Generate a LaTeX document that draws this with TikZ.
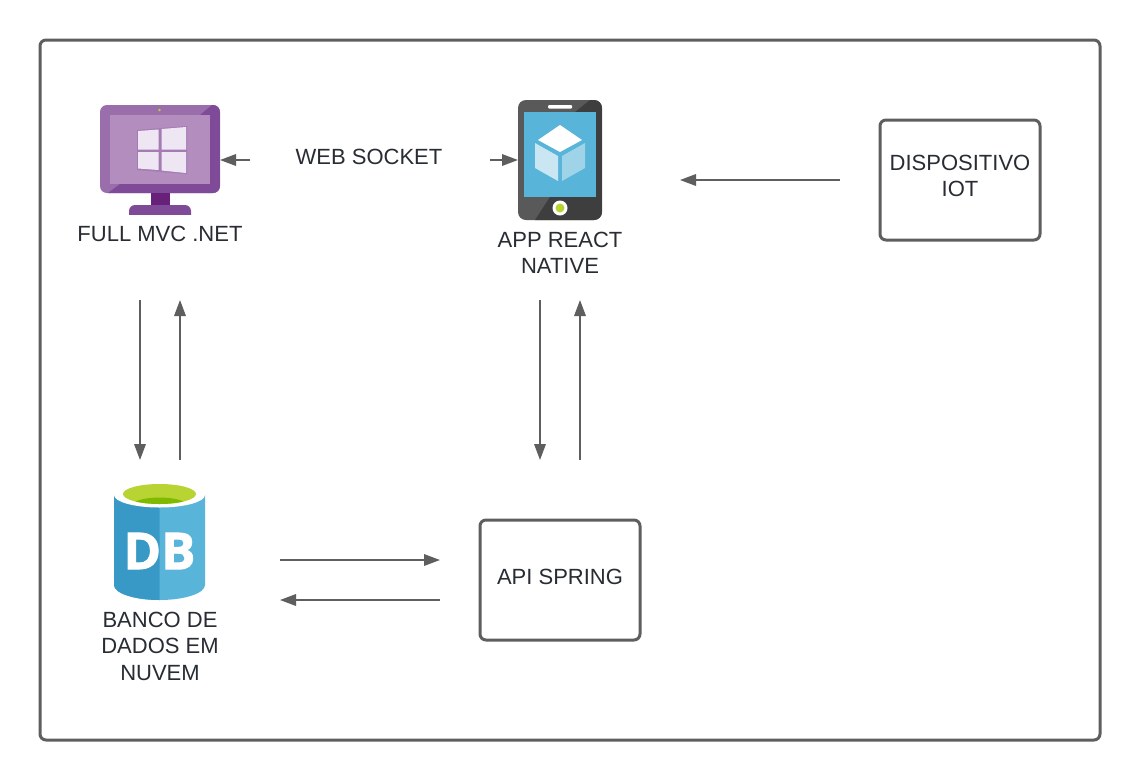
\documentclass[tikz,border=0pt]{standalone}
\usepackage{fontspec}
\setmainfont{Liberation Sans}
\newfontfamily\dbfont[BoldFeatures={FakeBold=1.5}]{Open Sans}
\usetikzlibrary{arrows.meta}
\definecolor{linegray}{HTML}{5E5E5E}
\definecolor{txt}{HTML}{282C33}
\definecolor{pa}{HTML}{9A6DAB}
\definecolor{pb}{HTML}{7F4A97}
\definecolor{pc}{HTML}{B28DBD}
\definecolor{pd}{HTML}{68217A}
\definecolor{pe}{HTML}{EEE6F2}
\definecolor{ph}{HTML}{595959}
\definecolor{phd}{HTML}{3E3E3E}
\definecolor{sky}{HTML}{59B4D9}
\definecolor{dbd}{HTML}{3999C6}
\definecolor{lime}{HTML}{B8D432}
\definecolor{gr}{HTML}{7FBA00}
\tikzset{
  x=1pt,y=-1pt,
  frame/.style={draw=linegray,line width=3pt,rounded corners=6pt,fill=white},
  lbl/.style={font=\fontsize{22}{26.5}\selectfont,text=txt,align=center,inner sep=0pt},
  conn/.style={draw=linegray,line width=1.8pt,-{Triangle[length=16pt,width=11.5pt,color=linegray]}},
}
\begin{document}
\begin{tikzpicture}
\useasboundingbox (0,0) rectangle (1140,780);
\fill[white] (0,0) rectangle (1140,780);
\draw[frame] (40,40) rectangle (1100,740);

% monitor
\fill[pa,rounded corners=7pt] (100,105) rectangle (220,193);
\begin{scope}
  \clip[rounded corners=7pt] (100,105) rectangle (220,193);
  \fill[pb] (220,105) -- (220,193) -- (108,193) -- (120,184) -- (200,115) -- (212,105) -- cycle;
\end{scope}
\fill[pc] (110,115) rectangle (210,184);
\fill[lime] (159.5,110) circle (1.3);
\fill[pd] (150.5,193) rectangle (170,205);
\fill[pb,rounded corners=6pt] (129,222) -- (129,205) -- (191,205) -- (191,222) -- cycle;
\fill[white] (125,215) rectangle (195,225);
\fill[pa!55!pc] (137,130) -- (187,126) -- (187,174) -- (137,170) -- cycle;
\fill[pe] (138,131) -- (158.5,129.5) -- (158.5,149.5) -- (138,149.5) -- cycle;
\fill[pe] (161.5,129) -- (186,127) -- (186,149.5) -- (161.5,149.5) -- cycle;
\fill[pe] (138,152) -- (158.5,152) -- (158.5,170) -- (138,168.5) -- cycle;
\fill[pe] (161.5,152) -- (186,152) -- (186,173) -- (161.5,170.5) -- cycle;

% phone
\fill[ph,rounded corners=8pt] (518,100) rectangle (602,220);
\begin{scope}
  \clip[rounded corners=8pt] (518,100) rectangle (602,220);
  \fill[phd] (602,100) -- (590,100) -- (575,112) -- (596,112) -- (596,197) -- (550,197) -- (535,220) -- (602,220) -- cycle;
\end{scope}
\fill[sky] (524,112) rectangle (596,197);
\fill[white,rounded corners=1pt] (548,105) rectangle (572,108.5);
\fill[white] (560,208) circle (7.5);
\fill[lime] (560,208) circle (4.5);
\fill[white] (560,125) -- (582,140) -- (560,152) -- (538,140) -- cycle;
\fill[white,opacity=.68] (535,143) -- (558,156) -- (558,181) -- (535,168) -- cycle;
\fill[white,opacity=.42] (585,143) -- (562,156) -- (562,181) -- (585,168) -- cycle;

% database
\fill[sky] (114,495) -- (114,585) arc[start angle=180,end angle=0,x radius=45.5,y radius=15] -- (205,495) -- cycle;
\begin{scope}
  \clip (114,480) rectangle (159.5,601);
  \fill[dbd] (114,495) -- (114,585) arc[start angle=180,end angle=0,x radius=45.5,y radius=15] -- (205,495) -- cycle;
\end{scope}
\fill[white] (159.5,495) ellipse[x radius=45.5,y radius=12.5];
\fill[lime] (159.5,494) ellipse[x radius=36.5,y radius=10];
\begin{scope}
  \clip (159.5,494) ellipse[x radius=36.5,y radius=10];
  \fill[gr] (159.5,505) ellipse[x radius=27,y radius=7.5];
\end{scope}
\node[inner sep=0pt,text=white,font=\dbfont\bfseries\fontsize{51}{51}\selectfont] (dbmark) at (159.5,551) {DB};

% boxes
\node[frame,minimum width=160pt,minimum height=120pt,inner sep=0pt] (iot) at (960,180) {};
\node[lbl] (iottext) at (960,176) {DISPOSITIVO\\IOT};
\node[frame,minimum width=160pt,minimum height=120pt,inner sep=0pt] (api) at (560,580) {};
\node[lbl] (apitext) at (560,577) {API SPRING};

% labels
\node[lbl] (mvc) at (160,234) {FULL MVC .NET};
\node[lbl] (react) at (560,253) {APP REACT\\NATIVE};
\node[lbl] (ws) at (369,157) {WEB SOCKET};
\node[lbl] (bank) at (160,646) {BANCO DE\\DADOS EM\\NUVEM};

% connector ends
\coordinate (wsA) at (250,160);
\coordinate (wsAe) at (220,160);
\coordinate (wsB) at (490,160);
\coordinate (wsBe) at (518,160);
\coordinate (iotS) at (840,180);
\coordinate (iotE) at (680,180);
\coordinate (mvcD) at (140,300);
\coordinate (dbU) at (140,460);
\coordinate (dbS) at (180,460);
\coordinate (mvcU) at (180,300);
\coordinate (reD) at (540,300);
\coordinate (apU) at (540,460);
\coordinate (apS) at (580,460);
\coordinate (reU) at (580,300);
\coordinate (dbR) at (280,560);
\coordinate (apL) at (440,560);
\coordinate (apB) at (440,600);
\coordinate (dbB) at (280,600);

\draw[conn] (wsA) -- (wsAe);
\draw[conn] (wsB) -- (wsBe);
\draw[conn] (iotS) -- (iotE);
\draw[conn] (mvcD) -- (dbU);
\draw[conn] (dbS) -- (mvcU);
\draw[conn] (reD) -- (apU);
\draw[conn] (apS) -- (reU);
\draw[conn] (dbR) -- (apL);
\draw[conn] (apB) -- (dbB);
\end{tikzpicture}
\end{document}
